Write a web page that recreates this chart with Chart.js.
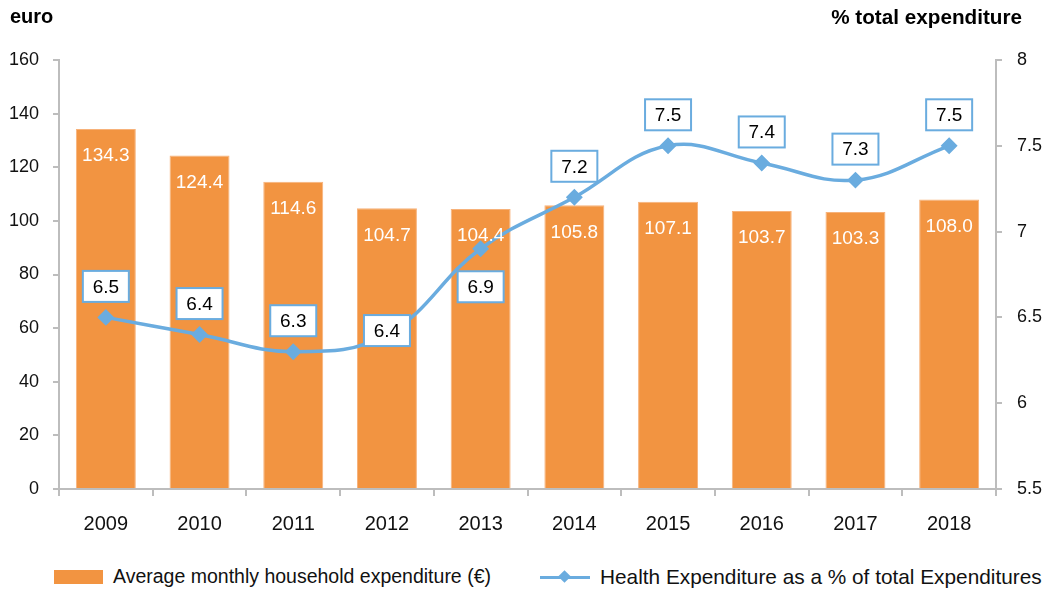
<!DOCTYPE html>
<html lang="en">
<head>
  <meta charset="UTF-8" />
  <title>Health expenditure</title>
  <script src="https://cdn.jsdelivr.net/npm/chart.js"></script>
  <style>
    body {
      margin: 0;
      width: 1060px;
      height: 591px;
      background: #fff;
      font-family: "Liberation Sans", Arial, sans-serif;
      position: relative;
      overflow: hidden;
    }
    #wrap {
      position: absolute;
      left: 0;
      top: 0;
      width: 1060px;
      height: 552px;
    }
    .unit {
      position: absolute;
      top: 5px;
      font-weight: bold;
      font-size: 20px;
      color: #000;
    }
    .legend-item {
      position: absolute;
      top: 565px;
      display: flex;
      align-items: center;
      font-size: 19.5px;
      color: #111;
      white-space: nowrap;
    }
    .swatch-bar {
      width: 49px;
      height: 14px;
      background: #f29441;
      margin-right: 10px;
    }
    .swatch-line {
      position: relative;
      width: 50px;
      height: 14px;
      margin-right: 10px;
    }
    .swatch-line::before {
      content: "";
      position: absolute;
      left: 0; right: 0; top: 6px;
      height: 3px;
      background: #6aacdf;
    }
    .swatch-line::after {
      content: "";
      position: absolute;
      left: 20px; top: 2px;
      width: 9px; height: 9px;
      background: #6aacdf;
      transform: rotate(45deg);
    }
  </style>
</head>
<body>

<div id="wrap"><canvas id="chart"></canvas></div>
<div class="unit" style="left:10px">euro</div>
<div class="unit" style="right:38px; font-size:20.7px">% total expenditure</div>
<div class="legend-item" style="left:54px">
  <div class="swatch-bar"></div><span>Average monthly household expenditure (€)</span>
</div>
<div class="legend-item" style="left:540px">
  <div class="swatch-line"></div><span style="font-size:20.8px">Health Expenditure as a % of total Expenditures</span>
</div>

<script>
const years = ["2009", "2010", "2011", "2012", "2013", "2014", "2015", "2016", "2017", "2018"];
const monthlyExpenditure = [134.3, 124.4, 114.6, 104.7, 104.4, 105.8, 107.1, 103.7, 103.3, 108.0];
const healthShare = [6.5, 6.4, 6.3, 6.4, 6.9, 7.2, 7.5, 7.4, 7.3, 7.5];
// where each % label box sits relative to its point (px, negative = above)
const shareLabelOffset = [-31, -31, -31, -4, 38, -31, -31, -31, -31, -31];

const ORANGE = "#f29441";
const BLUE = "#6aacdf";
const AXIS = "#bdbdbd";
const FONT = "'Liberation Sans', Arial, sans-serif";

const valueLabels = {
  id: "valueLabels",
  afterDatasetsDraw(chart) {
    const c = chart.ctx;
    c.save();
    c.font = "19px " + FONT;
    c.textAlign = "center";
    c.textBaseline = "middle";

    // bar values, white, inside the top of each bar
    chart.getDatasetMeta(1).data.forEach((bar, i) => {
      c.fillStyle = "#fff";
      c.fillText(monthlyExpenditure[i].toFixed(1), bar.x, bar.y + 27);
    });

    // boxed % values
    chart.getDatasetMeta(0).data.forEach((pt, i) => {
      const txt = healthShare[i].toFixed(1);
      const w = 46, h = 31;
      const cx = pt.x, cy = pt.y + shareLabelOffset[i];
      c.fillStyle = "#fff";
      c.fillRect(cx - w / 2, cy - h / 2, w, h);
      c.lineWidth = 2;
      c.strokeStyle = BLUE;
      c.strokeRect(cx - w / 2, cy - h / 2, w, h);
      c.fillStyle = "#000";
      c.fillText(txt, cx, cy + 1);
    });
    c.restore();
  }
};

new Chart(document.getElementById("chart"), {
  data: {
    labels: years,
    datasets: [
      {
        type: "line",
        label: "Health Expenditure as a % of total Expenditures",
        data: healthShare,
        yAxisID: "yRight",
        borderColor: BLUE,
        backgroundColor: BLUE,
        borderWidth: 3.5,
        tension: 0.4,
        pointStyle: "rectRot",
        pointRadius: 6,
        pointHoverRadius: 6,
        order: 0
      },
      {
        type: "bar",
        label: "Average monthly household expenditure (€)",
        data: monthlyExpenditure,
        yAxisID: "yLeft",
        backgroundColor: ORANGE,
        borderColor: "#f7b27a",
        borderWidth: 1,
        barPercentage: 0.64,
        categoryPercentage: 1,
        order: 1
      }
    ]
  },
  options: {
    responsive: true,
    maintainAspectRatio: false,
    animation: false,
    layout: { padding: { top: 60, left: 0, right: 0, bottom: 0 } },
    plugins: {
      legend: { display: false },
      tooltip: { enabled: false }
    },
    scales: {
      x: {
        offset: true,
        grid: {
          offset: true,
          drawOnChartArea: false,
          drawTicks: true,
          tickLength: 7,
          color: AXIS,
          lineWidth: 2
        },
        border: { display: true, color: AXIS, width: 2 },
        ticks: { color: "#111", font: { family: FONT, size: 20 }, padding: 16 }
      },
      yLeft: {
        position: "left",
        min: 0,
        max: 160,
        afterFit: s => { s.width = 59; },
        grid: {
          drawOnChartArea: false,
          tickLength: 6,
          color: AXIS,
          lineWidth: 2
        },
        border: { display: true, color: AXIS, width: 2 },
        ticks: { stepSize: 20, color: "#111", font: { family: FONT, size: 18 }, padding: 14 }
      },
      yRight: {
        position: "right",
        min: 5.5,
        max: 8,
        afterFit: s => { s.width = 64; },
        grid: {
          drawOnChartArea: false,
          tickLength: 6,
          color: AXIS,
          lineWidth: 2
        },
        border: { display: true, color: AXIS, width: 2 },
        ticks: {
          stepSize: 0.5,
          color: "#111",
          font: { family: FONT, size: 18 },
          padding: 15,
          callback: v => String(v)
        }
      }
    }
  },
  plugins: [valueLabels]
});
</script>

</body>
</html>
